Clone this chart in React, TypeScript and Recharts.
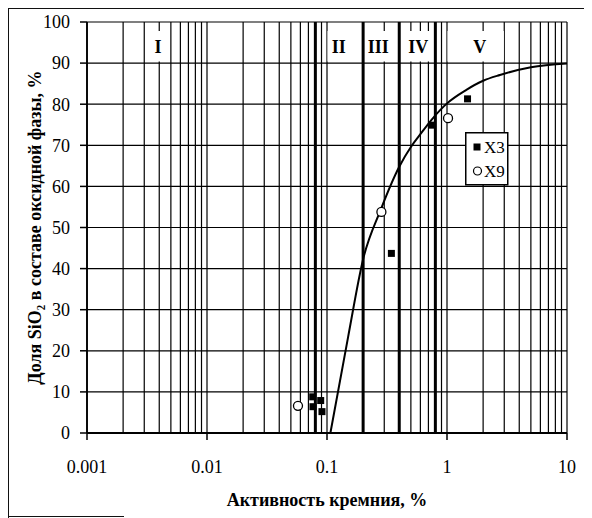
import React from "react";
import {
  ComposedChart,
  Line,
  Scatter,
  XAxis,
  YAxis,
  CartesianGrid,
  ReferenceArea,
  ReferenceLine,
  Legend,
} from "recharts";

const FONT = '"Liberation Serif", "Times New Roman", serif';

// log grid: every 1..9 step of each decade
const gridTicks = [
  0.001, 0.002, 0.003, 0.004, 0.005, 0.006, 0.007, 0.008, 0.009,
  0.01, 0.02, 0.03, 0.04, 0.05, 0.06, 0.07, 0.08, 0.09,
  0.1, 0.2, 0.3, 0.4, 0.5, 0.6, 0.7, 0.8, 0.9,
  1, 2, 3, 4, 5, 6, 7, 8, 9,
  10,
];
const decadeTicks = [0.001, 0.01, 0.1, 1, 10];
const decadeLabels = ["0.001", "0.01", "0.1", "1", "10"];
const shareTicks = [0, 10, 20, 30, 40, 50, 60, 70, 80, 90, 100];

// zone boundaries and zone captions
const zoneBounds = [0.08, 0.2, 0.4, 0.8];
const zoneNames = ["I", "II", "III", "IV", "V"];
const zoneFrom = [0.0031, 0.101, 0.205, 0.41, 1.01];
const zoneTo = [0.0049, 0.195, 0.39, 0.78, 2.98];
const zoneShift = [0, -6, -3, 1, 4];

// fitted curve
const curveActivity = [0.1067, 0.15, 0.2, 0.28, 0.4, 0.5, 0.6, 0.743, 1, 1.45, 2, 2.76, 5, 10];
const curveShare = [0, 23.4, 42.3, 54.3, 64.8, 69.6, 72.7, 76.2, 80.2, 83.5, 85.7, 87.1, 89, 89.9];

// measured samples
const seriesNames = ["X3", "X9"];
const x3Activity = [0.076, 0.0886, 0.0764, 0.0908, 0.344, 0.743, 1.483];
const x3Share = [8.8, 7.9, 6.4, 5.2, 43.7, 74.9, 81.3];
const x9Activity = [0.0573, 0.284, 1.02];
const x9Share = [6.6, 53.8, 76.6];

const curve = curveActivity.map((x, i) => ({ x, y: curveShare[i] }));
const x3 = x3Activity.map((x, i) => ({ x, y: x3Share[i] }));
const x9 = x9Activity.map((x, i) => ({ x, y: x9Share[i] }));

const XTick = (props: any) => {
  const { x, y, payload } = props;
  const idx = decadeTicks.indexOf(payload.value);
  if (idx < 0) return null;
  return (
    <g>
      <line x1={x} x2={x} y1={y - 27} y2={y - 20} stroke="#000" strokeWidth={1.5} />
      <text x={x} y={y} dy="0.71em" textAnchor="middle" fill="#000" fontSize={18} fontFamily={FONT}>
        {decadeLabels[idx]}
      </text>
    </g>
  );
};

const SquareDot = (props: any) => (
  <rect x={props.cx - 3.5} y={props.cy - 3.5} width={7} height={7} fill="#000" />
);

const CircleDot = (props: any) => (
  <circle cx={props.cx} cy={props.cy} r={4.5} fill="#fff" stroke="#000" strokeWidth={1.3} />
);

// boxed legend, 43 x 53, one row every 24px
const LegendBox = (props: any) => {
  const items = (props.payload || []).filter(
    (entry: any) => entry.type !== "none" && seriesNames.includes(entry.value)
  );
  return (
    <svg width={44} height={54} style={{ display: "block" }}>
      <rect x={0.75} y={0.75} width={42} height={52} fill="#fff" stroke="#000" strokeWidth={1.5} />
      {items.map((entry: any, i: number) => {
        const cy = 15 + i * 24;
        return (
          <g key={entry.value}>
            {entry.type === "square" ? (
              <rect x={8.5} y={cy - 3.5} width={7} height={7} fill="#000" />
            ) : (
              <circle cx={12.5} cy={cy} r={4} fill="#fff" stroke="#000" strokeWidth={1.2} />
            )}
            <text x={19} y={cy + 6} fontSize={17} fontFamily={FONT} fill="#000">
              {entry.value}
            </text>
          </g>
        );
      })}
    </svg>
  );
};

const frameLine: React.CSSProperties = { position: "absolute", zIndex: 5, pointerEvents: "none" };

export default function App() {
  return (
    <div style={{ position: "relative", width: 584, height: 510 }}>
      <ComposedChart width={584} height={510} margin={{ top: 14, right: 25, bottom: 5, left: 0 }}>
        <CartesianGrid stroke="#000" strokeWidth={1.2} />
        <XAxis
          type="number"
          dataKey="x"
          scale="log"
          domain={[0.001, 10]}
          ticks={gridTicks}
          interval={0}
          allowDataOverflow
          height={80}
          tickSize={7}
          tickMargin={20}
          tickLine={false}
          tick={<XTick />}
          axisLine={{ stroke: "#000", strokeWidth: 1.8 }}
          label={{
            value: "Активность кремния, %",
            position: "insideBottom",
            offset: 7,
            fill: "#000",
            fontSize: 18,
            fontWeight: "bold",
            fontFamily: FONT,
          }}
        />
        <YAxis
          type="number"
          dataKey="y"
          domain={[0, 100]}
          ticks={shareTicks}
          interval={0}
          width={79}
          tickSize={7}
          tickMargin={10}
          tick={{ fill: "#000", fontSize: 18, fontFamily: FONT }}
          tickLine={{ stroke: "#000", strokeWidth: 1.5 }}
          axisLine={{ stroke: "#000", strokeWidth: 1.8 }}
          label={{
            value: "Доля SiO₂ в составе оксидной фазы, %",
            angle: -90,
            position: "insideLeft",
            offset: 27,
            fill: "#000",
            fontSize: 18,
            fontWeight: "bold",
            fontFamily: FONT,
            style: { textAnchor: "middle" },
          }}
        />
        {zoneNames.map((name, i) => (
          <ReferenceArea
            key={name}
            x1={zoneFrom[i]}
            x2={zoneTo[i]}
            y1={90.4}
            y2={97.8}
            fill="#fff"
            fillOpacity={1}
            stroke="none"
            label={{
              value: name,
              position: "center",
              dx: zoneShift[i],
              fill: "#000",
              fontSize: 18,
              fontWeight: "bold",
              fontFamily: FONT,
            }}
          />
        ))}
        {zoneBounds.map((b) => (
          <ReferenceLine key={b} x={b} stroke="#000" strokeWidth={3} />
        ))}
        <Line
          data={curve}
          dataKey="y"
          type="monotone"
          stroke="#000"
          strokeWidth={2}
          dot={false}
          legendType="none"
          isAnimationActive={false}
        />
        <Scatter name="X3" data={x3} dataKey="y" legendType="square" shape={<SquareDot />} isAnimationActive={false} />
        <Scatter name="X9" data={x9} dataKey="y" legendType="circle" shape={<CircleDot />} isAnimationActive={false} />
        <Legend
          layout="vertical"
          align="center"
          verticalAlign="middle"
          content={<LegendBox />}
          wrapperStyle={{ left: 457, top: 124, width: 44, height: 54 }}
        />
      </ComposedChart>
      {/* outer frame: top and left edges, short stub at the bottom */}
      <div style={{ ...frameLine, left: 0, top: 0, width: 584, height: 0, borderTop: "1.5px solid #111" }} />
      <div style={{ ...frameLine, left: 0, top: 0, width: 0, height: 510, borderLeft: "1.5px solid #111" }} />
      <div style={{ ...frameLine, left: 0, top: 508, width: 116, height: 0, borderTop: "1.5px solid #111" }} />
    </div>
  );
}
